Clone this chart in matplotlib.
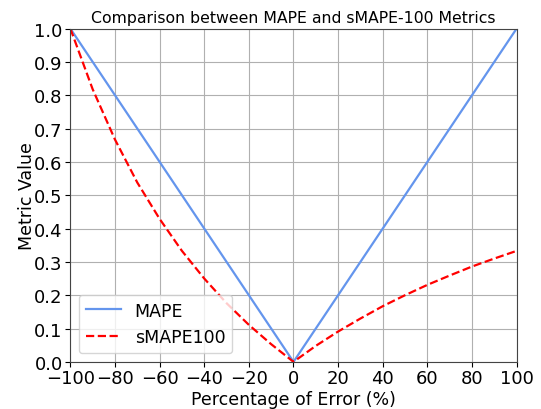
import matplotlib
matplotlib.use("Agg")
import matplotlib.pyplot as plt

# error percentages and metric values
mape_x = [-100, 0, 100]
mape_y = [1.0, 0.0, 1.0]

smape_x = [-100, -90, -80, -70, -60, -50, -40, -30, -20, -10, 0,
           10, 20, 30, 40, 50, 60, 70, 80, 90, 100]
smape_y = [1.0, 0.818, 0.667, 0.538, 0.429, 0.333, 0.25, 0.176, 0.111, 0.053, 0.0,
           0.048, 0.091, 0.13, 0.167, 0.2, 0.231, 0.259, 0.286, 0.31, 0.333]

plt.rcParams['font.size'] = 12.5

fig, ax = plt.subplots(figsize=(5.41, 4.10), dpi=100)
ax.plot(mape_x, mape_y, color='cornflowerblue', linestyle='-', linewidth=1.6, label='MAPE')
ax.plot(smape_x, smape_y, color='red', linestyle='--', linewidth=1.6, label='sMAPE100')

ax.set_title('Comparison between MAPE and sMAPE-100 Metrics', fontsize=11.3, pad=5)
ax.set_xlabel('Percentage of Error (%)', labelpad=2)
ax.set_ylabel('Metric Value', labelpad=-1)
ax.set_xlim(-100, 100)
ax.set_ylim(0, 1)
ax.set_xticks(range(-100, 101, 20))
ax.set_yticks([i / 10 for i in range(11)])
ax.tick_params(labelsize=13, pad=2)
ax.grid(True)
for s in ax.spines.values():
    s.set_color('#444444')
ax.legend(loc='lower left', fontsize=12.5)

plt.subplots_adjust(left=0.13, right=0.955, top=0.928, bottom=0.115)
plt.savefig('out.png')
